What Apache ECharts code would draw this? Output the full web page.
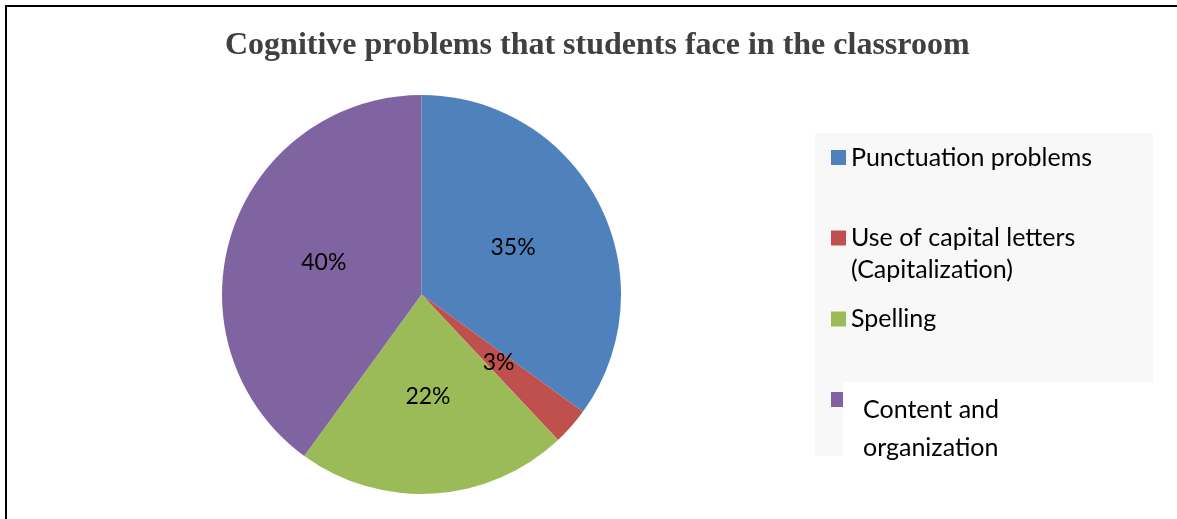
<!DOCTYPE html>
<html>
<head>
<meta charset="utf-8">
<script src="https://cdn.jsdelivr.net/npm/echarts@6/dist/echarts.min.js"></script>
<style>
  html, body { margin: 0; padding: 0; background: #ffffff; }
  #chart { width: 1177px; height: 519px; }
</style>
</head>
<body>
<div id="chart"></div>
<script>
// Survey categories and their shares (percent)
const categories = [
  'Punctuation problems',
  'Use of capital letters (Capitalization)',
  'Spelling',
  'Content and organization'
];
const shares = [35, 3, 22, 40];
// Lines of each legend entry
const legendLines = [
  ['Punctuation problems'],
  ['Use of capital letters', '(Capitalization)'],
  ['Spelling'],
  ['Content and', 'organization']
];
const colors = ['#4F81BD', '#C0504D', '#9BBB59', '#8064A2'];
const titleText = 'Cognitive problems that students face in the classroom';

const bodyFont = 'Lato, "Open Sans", sans-serif';
const bodySize = 25;

const chart = echarts.init(document.getElementById('chart'), null, { renderer: 'canvas' });

// One legend block per category; a spacer line on top keeps the first text
// line level with the colour key when the entry wraps.
function legendFor(i, top, opts) {
  const o = opts || {};
  const lh = o.lineHeight || 32;
  const lines = legendLines[i];
  const wrapped = lines.length > 1;
  return {
    data: [categories[i]],
    orient: 'vertical',
    left: 831,
    top: top,
    padding: 0,
    itemWidth: o.itemWidth || 15,
    itemHeight: 15,
    icon: 'rect',
    selectedMode: false,
    z: 5,
    formatter: () => wrapped
      ? '{s| }\n' + lines.map(l => '{t|' + l + '}').join('\n')
      : lines[0],
    textStyle: {
      fontFamily: bodyFont,
      fontSize: bodySize,
      color: '#000000',
      lineHeight: lh,
      padding: [0, 0, 0, o.indent || 0],
      rich: {
        s: { fontFamily: bodyFont, fontSize: bodySize, lineHeight: o.spacer || lh },
        t: { fontFamily: bodyFont, fontSize: bodySize, color: '#000000', lineHeight: lh }
      }
    }
  };
}

const option = {
  animation: false,
  color: colors,
  title: {
    text: titleText,
    left: 225,
    top: 30,
    padding: 0,
    z: 6,
    textStyle: {
      fontFamily: '"Liberation Serif", "Times New Roman", serif',
      fontWeight: 'bold',
      fontSize: 32,
      color: '#404040'
    }
  },
  graphic: [
    // chart frame (top and left edges)
    { type: 'polyline', z: 0, shape: { points: [[6, 519], [6, 6], [1177, 6]] },
      style: { stroke: '#000000', lineWidth: 2, fill: null } },
    // legend panel
    { type: 'rect', z: 0, shape: { x: 815, y: 133, width: 338, height: 323 },
      style: { fill: '#f8f8f8' } },
    { type: 'rect', z: 1, shape: { x: 843, y: 382, width: 310, height: 80 },
      style: { fill: '#ffffff' } }
  ],
  legend: [
    legendFor(0, 141.5),
    legendFor(1, 190, { lineHeight: 32 }),
    legendFor(2, 303),
    legendFor(3, 332, { itemWidth: 12, lineHeight: 38, spacer: 59, indent: 15 })
  ],
  series: [{
    type: 'pie',
    center: [421.5, 294.5],
    radius: [0, 199.5],
    startAngle: 90,
    clockwise: true,
    silent: true,
    z: 2,
    data: categories.map((name, i) => ({ name: name, value: shares[i] })),
    itemStyle: { borderWidth: 0 },
    label: {
      show: true,
      position: 'inside',
      formatter: (p) => p.value + '%',
      fontFamily: bodyFont,
      fontSize: 23,
      color: '#000000'
    },
    labelLine: { show: false },
    emphasis: { disabled: true }
  }]
};

chart.setOption(option);
</script>
</body>
</html>
